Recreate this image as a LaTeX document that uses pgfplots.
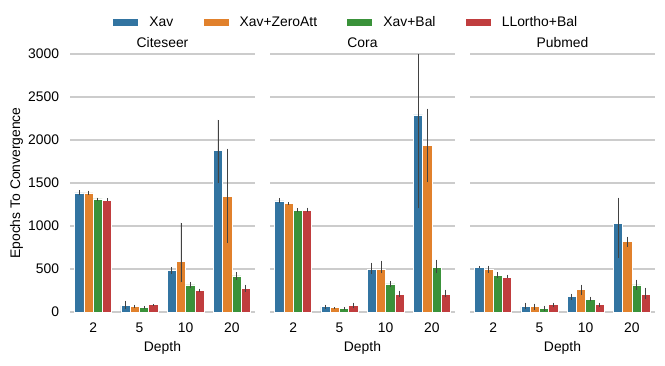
\documentclass[border=0pt]{standalone}
\usepackage{fontspec}
\setmainfont{Liberation Sans}
\usepackage{pgfplots}
\pgfplotsset{compat=1.18}

\definecolor{cBlue}{RGB}{50,116,161}
\definecolor{cOrange}{RGB}{225,129,44}
\definecolor{cGreen}{RGB}{58,146,58}
\definecolor{cRed}{RGB}{192,61,62}
\definecolor{gridgray}{RGB}{204,204,204}
\definecolor{errgray}{RGB}{66,66,66}

\pgfplotsset{
  panel/.style={
    scale only axis,
    width=133.2pt, height=185.76pt,
    anchor=south west,
    xmin=-0.5, xmax=3.5, ymin=0, ymax=3000,
    xtick={0,1,2,3}, xticklabels={2,5,10,20},
    ytick={0,500,...,3000},
    ymajorgrids,
    grid style={color=gridgray, line width=0.8pt},
    axis line style={draw=none},
    major tick length=0pt,
    /pgf/number format/assume math mode=true,
    /pgf/number format/1000 sep={},
    xticklabel style={anchor=base, yshift=-15.1pt},
    yticklabel style={anchor=east, xshift=-4.4pt},
    xlabel={Depth},
    xlabel style={at={(axis description cs:0.5,-0.1534)}, anchor=base},
    every axis title shift=0pt,
    title style={at={(axis description cs:0.5,1)}, anchor=base, yshift=4.8pt},
    ybar, bar width=0.2,
    every axis plot/.append style={draw=white, line width=0.4pt},
    error bars/y dir=both,
    error bars/y explicit,
    error bars/error mark=none,
    error bars/error bar style={color=errgray, line width=0.7pt},
    legend image code/.code={\fill[#1, draw=none] (0pt,-2.8pt) rectangle (18pt,2.8pt);},
  },
  s1/.style={fill=cBlue, bar shift=-0.3},
  s2/.style={fill=cOrange, bar shift=-0.1},
  s3/.style={fill=cGreen, bar shift=0.1},
  s4/.style={fill=cRed, bar shift=0.3},
}

\begin{document}
\begin{tikzpicture}
\path[use as bounding box] (0,0) rectangle (478.8pt,262.8pt);

% Citeseer
\begin{axis}[panel, at={(50.4pt,38.16pt)}, title={Citeseer},
    ylabel={Epochs To Convergence},
    ylabel style={at={(axis description cs:-0.27,0.5)}, anchor=base, rotate=0},
    legend columns=4,
    legend cell align=left,
    legend style={draw=none, fill=none, inner sep=0pt,
      at={(axis description cs:0.2327,1.122)}, anchor=west,
      /tikz/every even column/.append style={column sep=19.7pt},
      /tikz/every odd column/.append style={column sep=6pt}},
]
\addplot[s1] coordinates {(0,1384) += (0,31) -= (0,26) (1,74) += (0,58) -= (0,39) (2,481) += (0,42) -= (0,35) (3,1876) += (0,357) -= (0,376)};
\addplot[s2] coordinates {(0,1384) += (0,26) -= (0,24) (1,62) += (0,23) -= (0,17) (2,585) += (0,454) -= (0,240) (3,1341) += (0,558) -= (0,539)};
\addplot[s3] coordinates {(0,1314) += (0,16) -= (0,19) (1,50) += (0,20) -= (0,15) (2,314) += (0,35) -= (0,35) (3,419) += (0,46) -= (0,47)};
\addplot[s4] coordinates {(0,1302) += (0,18) -= (0,17) (1,85) += (0,10) -= (0,10) (2,248) += (0,23) -= (0,19) (3,271) += (0,47) -= (0,38)};
\legend{Xav, Xav+ZeroAtt, Xav+Bal, LLortho+Bal}
\end{axis}

% Cora
\begin{axis}[panel, at={(194.4pt,38.16pt)}, title={Cora}, yticklabels={}]
\addplot[s1] coordinates {(0,1291) += (0,35) -= (0,24) (1,62) += (0,23) -= (0,22) (2,492) += (0,82) -= (0,50) (3,2291) += (0,1000) -= (0,1086)};
\addplot[s2] coordinates {(0,1260) += (0,15) -= (0,15) (1,50) += (0,5) -= (0,5) (2,500) += (0,97) -= (0,50) (3,1934) += (0,430) -= (0,426)};
\addplot[s3] coordinates {(0,1186) += (0,19) -= (0,21) (1,39) += (0,21) -= (0,19) (2,326) += (0,34) -= (0,31) (3,523) += (0,85) -= (0,73)};
\addplot[s4] coordinates {(0,1186) += (0,29) -= (0,26) (1,74) += (0,35) -= (0,31) (2,209) += (0,39) -= (0,35) (3,209) += (0,51) -= (0,38)};
\end{axis}

% Pubmed
\begin{axis}[panel, at={(338.4pt,38.16pt)}, title={Pubmed}, yticklabels={}]
\addplot[s1] coordinates {(0,523) += (0,12) -= (0,11) (1,62) += (0,47) -= (0,32) (2,178) += (0,35) -= (0,38) (3,1027) += (0,302) -= (0,399)};
\addplot[s2] coordinates {(0,492) += (0,47) -= (0,39) (1,62) += (0,35) -= (0,35) (2,260) += (0,58) -= (0,58) (3,818) += (0,58) -= (0,58)};
\addplot[s3] coordinates {(0,430) += (0,35) -= (0,31) (1,39) += (0,35) -= (0,29) (2,151) += (0,27) -= (0,27) (3,314) += (0,62) -= (0,54)};
\addplot[s4] coordinates {(0,407) += (0,27) -= (0,16) (1,85) += (0,24) -= (0,31) (2,85) += (0,24) -= (0,23) (3,209) += (0,74) -= (0,58)};
\end{axis}
\end{tikzpicture}
\end{document}
